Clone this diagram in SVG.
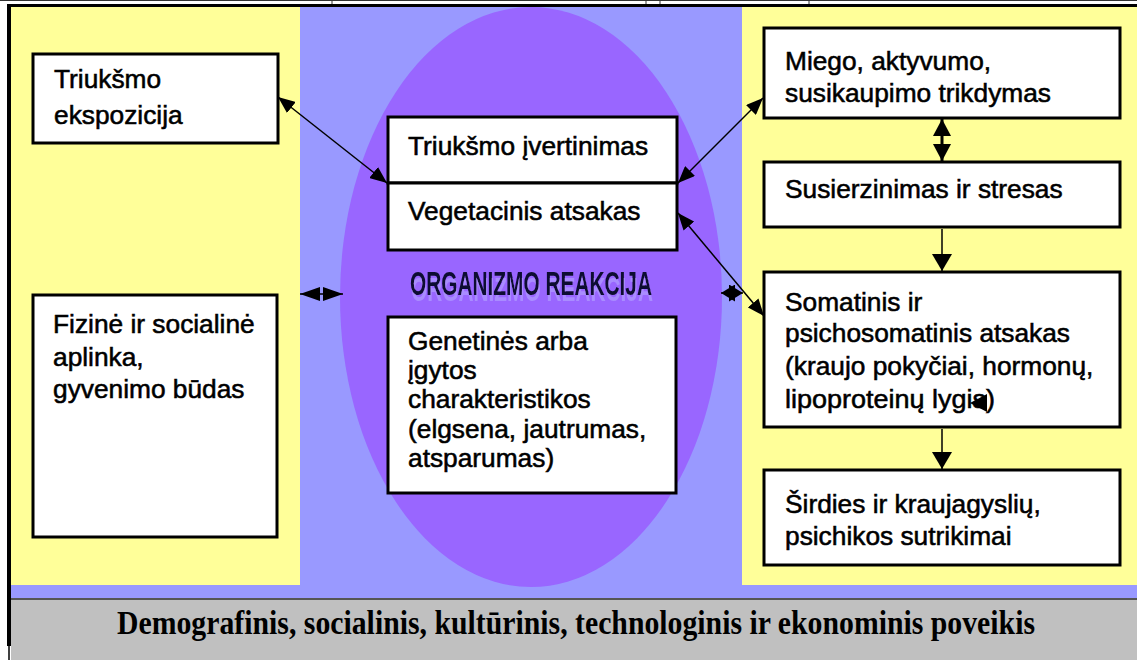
<svg xmlns="http://www.w3.org/2000/svg" width="1137" height="660" viewBox="0 0 1137 660">
<style>
.box{fill:#fff;stroke:#000;stroke-width:3}
.t{font-family:"Liberation Sans",Arial,sans-serif;font-size:26.3px;fill:#000;stroke:#000;stroke-width:0.55}
.c{fill:none;stroke:#000;stroke-width:1.5}
</style>
<defs>
<filter id="ghost" x="-5%" y="-30%" width="110%" height="180%">
<feOffset in="SourceAlpha" dx="1" dy="6" result="off"/>
<feFlood flood-color="#A98CFF"/>
<feComposite in2="off" operator="in" result="sh"/>
<feMerge><feMergeNode in="sh"/><feMergeNode in="SourceGraphic"/></feMerge>
</filter>
<marker id="m1" markerUnits="userSpaceOnUse" viewBox="0 0 17 14" refX="17" refY="7" markerWidth="17" markerHeight="14" orient="auto-start-reverse"><path d="M0,0L17,7L0,14Z" fill="#000"/></marker>
<marker id="m2" markerUnits="userSpaceOnUse" viewBox="0 0 17 20" refX="17" refY="10" markerWidth="17" markerHeight="20" orient="auto-start-reverse"><path d="M0,0L17,10L0,20Z" fill="#000"/></marker>
<marker id="m3" markerUnits="userSpaceOnUse" viewBox="0 0 17 18" refX="17" refY="9" markerWidth="17" markerHeight="18" orient="auto-start-reverse"><path d="M0,0L17,9L0,18Z" fill="#000"/></marker>
<marker id="m4" markerUnits="userSpaceOnUse" viewBox="0 0 20 14" refX="20" refY="7" markerWidth="20" markerHeight="14" orient="auto-start-reverse"><path d="M0,0L20,7L0,14Z" fill="#000"/></marker>
<marker id="m5" markerUnits="userSpaceOnUse" viewBox="0 0 14 17" refX="14" refY="8.5" markerWidth="14" markerHeight="17" orient="auto-start-reverse"><path d="M0,0L14,8.5L0,17Z" fill="#000"/></marker>
</defs>
<rect width="1137" height="660" fill="#fff"/>
<g id="background">
<line x1="0" y1="0.5" x2="1137" y2="0.5" stroke="#333" stroke-width="1"/>
<line x1="332" y1="0" x2="332" y2="5" stroke="#333" stroke-width="1"/>
<line x1="646" y1="0" x2="646" y2="5" stroke="#333" stroke-width="1"/>
<line x1="660" y1="0" x2="660" y2="5" stroke="#333" stroke-width="1"/>
<line x1="809" y1="0" x2="809" y2="5" stroke="#333" stroke-width="1"/>
<rect x="11" y="7" width="1126" height="592" fill="#9999FF"/>
<rect x="11" y="7" width="289" height="578" fill="#FFFF99"/>
<rect x="742" y="7" width="395" height="578" fill="#FFFF99"/>
<ellipse cx="531" cy="297" rx="191" ry="290" fill="#9966FF"/>
<rect x="11" y="599" width="1126" height="61" fill="#C0C0C0"/>
<line x1="11" y1="599" x2="1137" y2="599" stroke="#555" stroke-width="2"/>
<rect x="7" y="4" width="1130" height="3" fill="#000"/>
<rect x="7" y="4" width="4" height="642" fill="#000"/>
<line x1="9" y1="645" x2="9" y2="660" stroke="#000" stroke-width="1.5"/>
</g>
<g id="n_ekspozicija"><rect class="box" x="33" y="54" width="245" height="89"/><text class="t" x="54" y="88">Triukšmo</text><text class="t" x="54" y="124">ekspozicija</text></g>
<g id="n_ivertinimas"><rect class="box" x="388" y="117" width="289" height="66"/><text class="t" x="408" y="155">Triukšmo įvertinimas</text></g>
<g id="n_vegetacinis"><rect class="box" x="388" y="183" width="289" height="67"/><text class="t" x="408" y="220">Vegetacinis atsakas</text></g>
<g id="n_organizmo">
<text x="531" y="295" text-anchor="middle" font-family="'Liberation Sans',Arial,sans-serif" font-weight="bold" font-size="33" textLength="242" lengthAdjust="spacingAndGlyphs" fill="#0D0D33" filter="url(#ghost)">ORGANIZMO REAKCIJA</text>
</g>
<g id="n_genetines"><rect class="box" x="388" y="317" width="288" height="176"/>
<text class="t" x="408" y="350">Genetinės arba</text><text class="t" x="408" y="379">įgytos</text><text class="t" x="408" y="408">charakteristikos</text><text class="t" x="408" y="438">(elgsena, jautrumas,</text><text class="t" x="408" y="467">atsparumas)</text></g>
<g id="n_fizine"><rect class="box" x="33" y="295" width="244" height="242"/>
<text class="t" x="53" y="333">Fizinė ir socialinė</text><text class="t" x="53" y="366">aplinka,</text><text class="t" x="53" y="398">gyvenimo būdas</text></g>
<g id="n_miego"><rect class="box" x="764" y="28" width="356" height="90"/><text class="t" x="785" y="70">Miego, aktyvumo,</text><text class="t" x="785" y="102">susikaupimo trikdymas</text></g>
<g id="n_susierzinimas"><rect class="box" x="764" y="162" width="356" height="65"/><text class="t" x="785" y="198">Susierzinimas ir stresas</text></g>
<g id="n_somatinis"><rect class="box" x="764" y="272" width="356" height="155"/>
<text class="t" x="785" y="311">Somatinis ir</text><text class="t" x="785" y="342">psichosomatinis atsakas</text><text class="t" x="785" y="375">(kraujo pokyčiai, hormonų,</text><text class="t" x="785" y="408" textLength="210" lengthAdjust="spacingAndGlyphs">lipoproteinų lygis)</text>
<path d="M970,403L987,394L987,412Z" fill="#000"/></g>
<g id="n_sirdies"><rect class="box" x="764" y="470" width="356" height="95"/><text class="t" x="785" y="513">Širdies ir kraujagyslių,</text><text class="t" x="785" y="545">psichikos sutrikimai</text></g>
<g id="n_poveikis"><text x="576" y="634" text-anchor="middle" font-family="'Liberation Serif','Times New Roman',serif" font-weight="bold" font-size="33" textLength="918" lengthAdjust="spacingAndGlyphs" fill="#000">Demografinis, socialinis, kultūrinis, technologinis ir ekonominis poveikis</text></g>
<g id="connectors">
<line class="c" x1="278" y1="97" x2="387" y2="183" marker-start="url(#m1)" marker-end="url(#m1)"/>
<line class="c" x1="678" y1="183" x2="763" y2="98" marker-start="url(#m1)" marker-end="url(#m1)"/>
<line class="c" x1="678" y1="213" x2="764" y2="316" marker-start="url(#m1)" marker-end="url(#m1)"/>
<line x1="942" y1="119" x2="942" y2="161" stroke="#000" stroke-width="3" marker-start="url(#m3)" marker-end="url(#m3)"/>
<line class="c" x1="942" y1="229" x2="942" y2="271" marker-end="url(#m2)"/>
<line class="c" x1="942" y1="429" x2="942" y2="469" marker-end="url(#m2)"/>
<line class="c" x1="300" y1="294" x2="343" y2="294" marker-start="url(#m4)" marker-end="url(#m4)"/>
<line class="c" x1="721" y1="293" x2="743" y2="293" marker-start="url(#m5)" marker-end="url(#m5)"/>
</g>
</svg>
